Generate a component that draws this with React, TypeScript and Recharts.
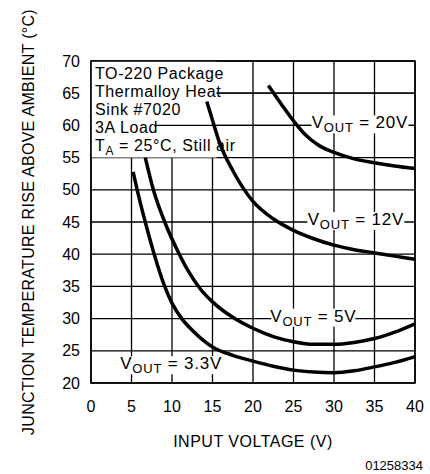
import React from 'react';
import {
    LineChart, Line, XAxis, YAxis, CartesianGrid,
    ReferenceArea, ReferenceLine, ReferenceDot,
} from 'recharts';

const FONT = "'Liberation Sans', Arial, sans-serif";

// input voltage (V) / junction temperature rise (°C) per output voltage
const vin3v3 = [5.2, 5.7, 6.7, 7.8, 9.1, 10, 11.2, 12.5, 15, 17.5, 20, 22.5, 25, 27.5, 30, 32.5, 35, 37.5, 40];
const rise3v3 = [52.8, 50, 45, 40, 35, 32.4, 30, 28.2, 25.6, 24.3, 23.4, 22.6, 22.0, 21.7, 21.6, 21.9, 22.5, 23.2, 24.1];

const vin5 = [6.7, 7.7, 9.1, 10.9, 12, 13.5, 15, 17.5, 20, 22.5, 25, 27.5, 30, 32.5, 35, 37.5, 40];
const rise5 = [55, 50, 45, 40, 37.4, 34.6, 32.6, 30.2, 28.5, 27.2, 26.4, 26.0, 26.0, 26.3, 26.9, 27.9, 29.2];

const vin12 = [14.3, 15, 15.9, 17.5, 20, 22.5, 25, 27.5, 30, 32.5, 35, 37.5, 40];
const rise12 = [63.7, 60.8, 57.2, 53.0, 48.2, 45.5, 43.7, 42.4, 41.4, 40.7, 40.2, 39.7, 39.2];

const vin20 = [21.9, 23.5, 25, 26.5, 28, 30, 32.5, 35, 37.5, 40];
const rise20 = [66.2, 63.3, 60.7, 58.5, 57.0, 55.8, 54.8, 54.2, 53.7, 53.3];

const xTicks = [0, 5, 10, 15, 20, 25, 30, 35, 40];
const yTicks = [20, 25, 30, 35, 40, 45, 50, 55, 60, 65, 70];

const noteLines = ['TO-220 Package', 'Thermalloy Heat', 'Sink #7020', '3A Load'];

// where each curve's name sits (input V, °C)
const voutTags = [
    { name: '20V', v: 33.2, t: 60 },
    { name: '12V', v: 32.7, t: 45 },
    { name: '5V', v: 27.45, t: 30 },
    { name: '3.3V', v: 9.9, t: 22.6 },
];

const toPoints = (xs: number[], ys: number[]) => xs.map((v, i) => ({ v, t: ys[i] }));

const series = [
    toPoints(vin3v3, rise3v3),
    toPoints(vin5, rise5),
    toPoints(vin12, rise12),
    toPoints(vin20, rise20),
];

const VoutTag = (props: any) => {
    const { cx, cy, name } = props;
    const w = 58 + 13 * name.length;
    return (
        <g>
            <rect x={cx - w / 2} y={cy - 10} width={w} height={18} fill="#fff" />
            <text x={cx} y={cy + 3} textAnchor="middle" fontFamily={FONT} fontSize={17}
                letterSpacing={0.8} fill="#000">
                V<tspan fontSize={13} dy={4}>OUT</tspan><tspan dy={-4}> = {name}</tspan>
            </text>
        </g>
    );
};

const NoteText = (props: any) => {
    const { cx, cy } = props;
    const x = cx + 4;
    return (
        <g fontFamily={FONT} fontSize={16} letterSpacing={0.6} fill="#000">
            {noteLines.map((s, i) => (
                <text key={s} x={x} y={cy + 18 + i * 17.9}>{s}</text>
            ))}
            <text x={x} y={cy + 89.5}>
                T<tspan fontSize={12} dy={4}>A</tspan><tspan dy={-4}> = 25°C, Still air</tspan>
            </text>
        </g>
    );
};

const XTitle = (props: any) => {
    const vb = props.viewBox ?? { x: 91, y: 383, width: 324, height: 91 };
    const cx = vb.x + vb.width / 2;
    return (
        <text x={cx} y={vb.y + 64} textAnchor="middle" fontFamily={FONT} fontSize={16}
            letterSpacing={0.5} fill="#000">INPUT VOLTAGE (V)</text>
    );
};

const YTitle = (props: any) => {
    const vb = props.viewBox ?? { x: 0, y: 61, width: 91, height: 322 };
    const cx = vb.x + 28;
    const cy = vb.y + vb.height / 2;
    return (
        <text x={cx} y={cy} transform={`rotate(-90 ${cx} ${cy})`} textAnchor="middle"
            dominantBaseline="central" fontFamily={FONT} fontSize={16} letterSpacing={0.3} fill="#000">
            JUNCTION TEMPERATURE RISE ABOVE AMBIENT (°C)
        </text>
    );
};

export default function App() {
    return (
        <div style={{ position: 'absolute', left: 0, top: 0, width: 430, height: 474, background: '#fff' }}>
            <LineChart width={430} height={474} margin={{ top: 61, right: 15, left: 0, bottom: 0 }}>
                <CartesianGrid stroke="#000" strokeWidth={1.3} verticalPoints={undefined} />
                <XAxis
                    dataKey="v"
                    type="number"
                    domain={[0, 40]}
                    ticks={xTicks}
                    height={91}
                    tickSize={0}
                    tickMargin={18}
                    axisLine={false}
                    tickLine={false}
                    tick={{ fill: '#000', fontSize: 16, fontFamily: FONT }}
                    label={XTitle}
                    allowDataOverflow
                />
                <YAxis
                    type="number"
                    domain={[20, 70]}
                    ticks={yTicks}
                    width={91}
                    tickSize={0}
                    tickMargin={11}
                    axisLine={false}
                    tickLine={false}
                    tick={{ fill: '#000', fontSize: 16, fontFamily: FONT }}
                    label={YTitle}
                    allowDataOverflow
                />

                {/* the note block hides the grid behind it */}
                <ReferenceArea x1={0} x2={15.5} y1={55} y2={70} fill="#fff" fillOpacity={1}
                    stroke="none" zIndex={-50} />
                <ReferenceLine segment={[{ x: 15.5, y: 65 }, { x: 40, y: 65 }]} stroke="#000"
                    strokeWidth={1.3} zIndex={-40} />
                <ReferenceLine segment={[{ x: 7.9, y: 60 }, { x: 40, y: 60 }]} stroke="#000"
                    strokeWidth={1.3} zIndex={-40} />
                <ReferenceArea x1={0} x2={40} y1={20} y2={70} fill="none" stroke="#000"
                    strokeWidth={1.6} zIndex={-30} />

                {series.map((d, i) => (
                    <Line
                        key={i}
                        data={d}
                        dataKey="t"
                        type="monotone"
                        stroke="#000"
                        strokeWidth={3.5}
                        dot={false}
                        activeDot={false}
                        isAnimationActive={false}
                    />
                ))}

                {voutTags.map((tag) => (
                    <ReferenceDot key={tag.name} x={tag.v} y={tag.t} r={1} zIndex={450}
                        shape={(p: any) => <VoutTag {...p} name={tag.name} />} />
                ))}
                <ReferenceDot x={0} y={70} r={1} zIndex={2100} shape={(p: any) => <NoteText {...p} />} />
            </LineChart>
            <div style={{
                position: 'absolute', right: 7, top: 459, fontFamily: FONT, fontSize: 13,
                color: '#000', lineHeight: '14px',
            }}>01258334</div>
        </div>
    );
}
